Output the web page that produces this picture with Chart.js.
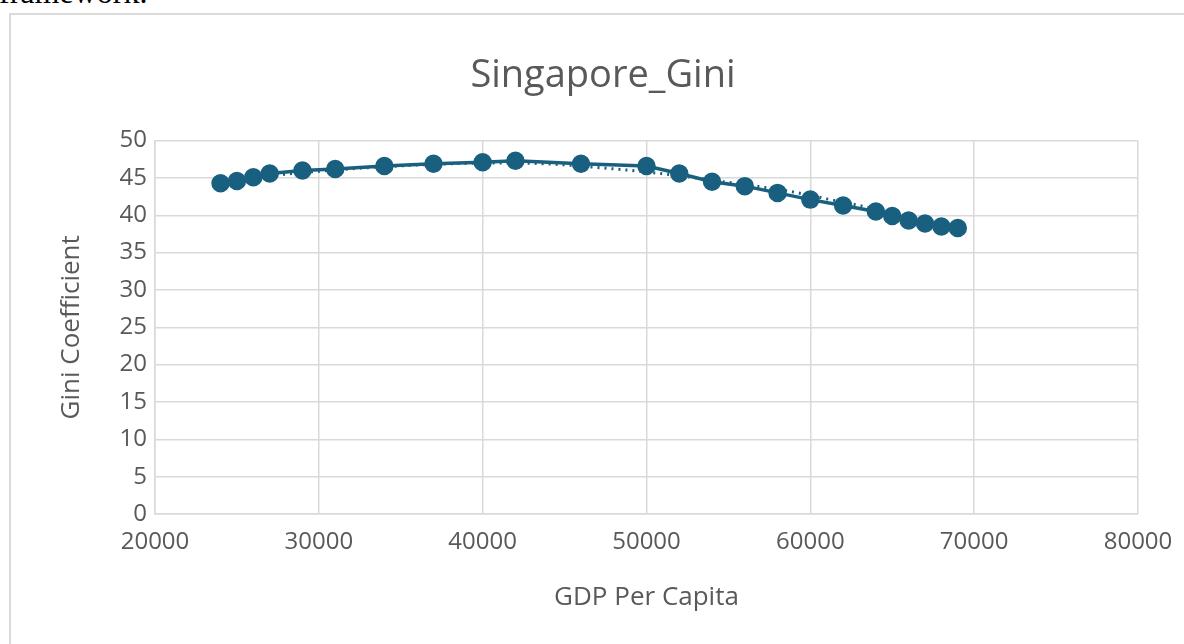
<!DOCTYPE html>
<html>
<head>
<meta charset="utf-8">
<script src="https://cdn.jsdelivr.net/npm/chart.js@4.4.0/dist/chart.umd.min.js"></script>
<style>
  html, body { margin: 0; padding: 0; background: #fff; overflow: hidden; }
  #above { position: absolute; left: -1px; top: -24px; font: 32px/32px "Liberation Serif", serif; color: #000; }
  #box { position: absolute; left: 9px; top: 13px; width: 1300px; height: 800px; border: 2px solid #dadada; }
  #wrap { position: absolute; left: 0; top: 0; width: 1184px; height: 644px; }
</style>
</head>
<body>
<div id="above">framework.</div>
<div id="box"></div>
<div id="wrap"><canvas id="myChart"></canvas></div>
<script>
// GDP per capita vs Gini
const gdp = [24000, 25000, 26000, 27000, 29000, 31000, 34000, 37000, 40000, 42000, 46000, 50000,
             52000, 54000, 56000, 58000, 60000, 62000, 64000, 65000, 66000, 67000, 68000, 69000]
const gini = [44.3, 44.6, 45.1, 45.6, 46.0, 46.2, 46.6, 46.9, 47.1, 47.3, 46.9, 46.6,
              45.6, 44.5, 43.9, 43.0, 42.1, 41.3, 40.5, 39.9, 39.3, 38.9, 38.5, 38.3]

// dotted trend line, estimated where it shows out from under the data line
const trendX = [24000, 26000, 28000, 30000, 34000, 38000, 42000, 45000, 47000, 50000,
                52000, 54000, 57000, 59000, 61000, 63000, 65000, 67000, 69000]
const trendY = [44.4, 45.0, 45.5, 45.9, 46.5, 46.9, 47.0, 46.75, 46.4, 45.8,
                45.3, 44.7, 43.8, 43.1, 42.2, 41.3, 40.3, 39.3, 38.2]

const xTicks = [20000, 30000, 40000, 50000, 60000, 70000, 80000]
const yTicks = [0, 5, 10, 15, 20, 25, 30, 35, 40, 45, 50]

const blue = '#195f7f'
const grey = '#595959'
const gridColor = '#d9d9d9'

function drawChart() {
    const ctx = document.getElementById('myChart').getContext('2d')

    let points = []
    gdp.forEach((g, i) => points.push({ x: g, y: gini[i] }))
    let trend = []
    trendX.forEach((t, i) => trend.push({ x: t, y: trendY[i] }))

    new Chart(ctx, {
        type: 'scatter',
        data: {
            datasets: [{
                label: 'Singapore_Gini',
                data: points,
                showLine: true,
                borderColor: blue,
                backgroundColor: blue,
                borderWidth: 3.5,
                pointRadius: 7.5,
                pointHoverRadius: 7.5,
                order: 1
            }, {
                label: 'Trend',
                data: trend,
                showLine: true,
                borderColor: blue,
                borderWidth: 3,
                borderDash: [2, 5],
                pointRadius: 0,
                cubicInterpolationMode: 'monotone',
                order: 2
            }]
        },
        options: {
            responsive: true,
            maintainAspectRatio: false,
            animation: false,
            // left padding pushed out so the title centres like the original
            layout: { padding: { left: 68, right: 46, top: 53, bottom: 20 } },
            plugins: {
                legend: { display: false },
                tooltip: { enabled: false },
                title: {
                    display: true,
                    text: 'Singapore_Gini',
                    color: grey,
                    font: { family: 'Open Sans', size: 38, weight: 'normal' },
                    padding: { top: 0, bottom: 42 }
                }
            },
            scales: {
                x: {
                    type: 'linear',
                    min: 20000,
                    max: 80000,
                    afterBuildTicks: axis => { axis.ticks = xTicks.map(v => ({ value: v })) },
                    afterFit: axis => {
                        axis.height = 110
                        axis.paddingRight = 0
                    },
                    grid: { color: gridColor, lineWidth: 1.5, drawTicks: false },
                    border: { color: gridColor, width: 1.5 },
                    ticks: {
                        color: grey,
                        font: { family: 'Open Sans', size: 24 },
                        padding: 14,
                        maxRotation: 0,
                        callback: v => String(v)
                    },
                    title: {
                        display: true,
                        text: 'GDP Per Capita',
                        color: grey,
                        font: { family: 'Open Sans', size: 26 },
                        padding: { top: 0, bottom: 11 }
                    }
                },
                y: {
                    min: 0,
                    max: 50,
                    afterBuildTicks: axis => { axis.ticks = yTicks.map(v => ({ value: v })) },
                    afterFit: axis => { axis.width = 87 },
                    grid: { color: gridColor, lineWidth: 1.5, drawTicks: false },
                    border: { color: gridColor, width: 1.5 },
                    ticks: { color: grey, font: { family: 'Open Sans', size: 24 }, padding: 8 },
                    title: {
                        display: true,
                        text: 'Gini Coefficient',
                        color: grey,
                        font: { family: 'Open Sans', size: 26 },
                        padding: { top: -12, bottom: 0 }
                    }
                }
            }
        }
    })
}

window.onload = () => {
    drawChart()
}
</script>
</body>
</html>
